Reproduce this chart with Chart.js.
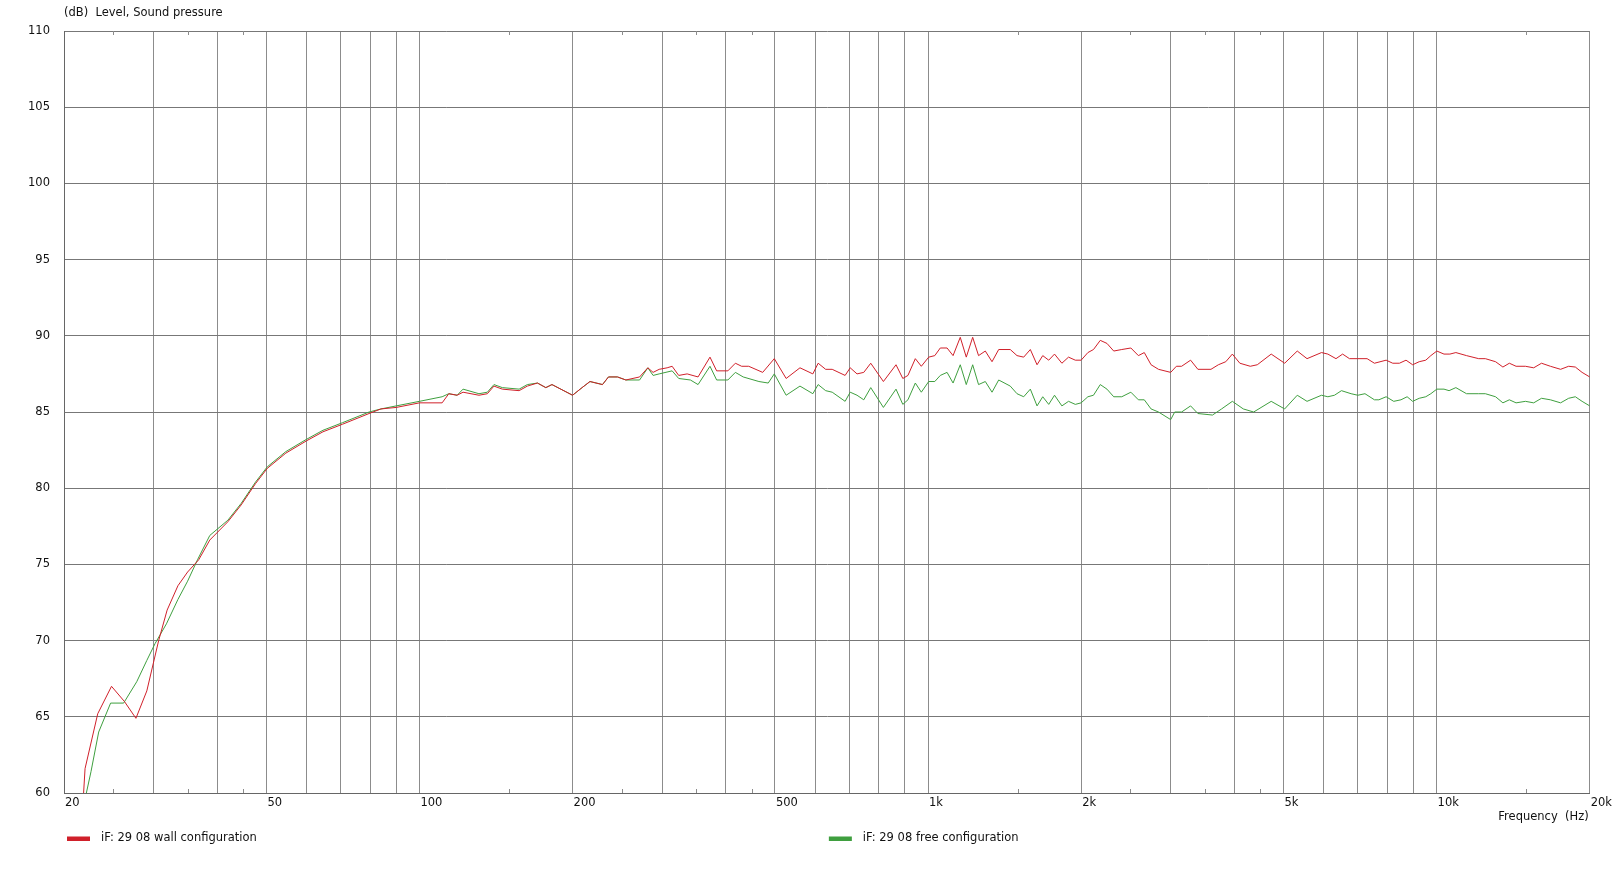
<!DOCTYPE html>
<html>
<head>
<meta charset="utf-8">
<script src="https://cdn.jsdelivr.net/npm/chart.js@4.4.1/dist/chart.umd.min.js"></script>
<style>
  html, body { margin: 0; padding: 0; background: #ffffff; }
  canvas { display: block; }
</style>
</head>
<body>
<canvas id="c" width="1614" height="869"></canvas>
<script>
// ---------- data ----------
const wallFreq = [21.5, 22.0, 23.3, 24.8, 26.3, 27.7, 29.1, 30.7, 31.9, 33.5,
  35.0, 36.8, 38.7, 42.0, 44.6, 47.6, 50.2, 54.6, 59.9, 64.6,
  70.6, 79.6, 84.0, 90.0, 100, 110.8, 114.2, 118.6, 121.8, 130.9,
  136, 140.1, 145.5, 157, 163, 170.6, 177.2, 182.2, 200, 208.8,
  216.4, 229, 235.3, 245.1, 254.6, 270.9, 281.2, 288, 296, 306.9,
  313.9, 323.4, 336, 353, 372.6, 384, 404, 418, 430, 444,
  473, 498.5, 526, 560, 593.6, 608, 629, 648, 687, 703,
  725, 747.5, 771.5, 817, 865, 892, 913, 944, 970, 1003,
  1031, 1057, 1090, 1120, 1157, 1189, 1224, 1257, 1296, 1336,
  1377, 1451, 1496, 1542, 1589, 1638, 1681, 1727, 1773, 1833,
  1889, 1948, 2000, 2062, 2115, 2181, 2248, 2318, 2404, 2505,
  2592, 2662, 2745, 2839, 3000, 3078, 3152, 3283, 3393, 3600,
  3723, 3850, 3966, 4103, 4301, 4440, 4729, 5026, 5321, 5562,
  5938, 6112, 6341, 6534, 6740, 7000, 7300, 7546, 7957, 8199,
  8450, 8707, 8971, 9242, 9521, 9742, 10010, 10340, 10620, 10910,
  11450, 12100, 12470, 13060, 13500, 13900, 14330, 14950, 15520, 16080,
  16740, 17530, 18180, 18740, 19320, 20000];
const wallLevel = [56.0, 61.6, 65.2, 67.0, 66.0, 64.9, 66.7, 70.0, 72.0, 73.6,
  74.5, 75.3, 76.6, 77.8, 78.9, 80.3, 81.3, 82.3, 83.1, 83.7,
  84.2, 84.9, 85.2, 85.3, 85.6, 85.6, 86.2, 86.1, 86.3, 86.1,
  86.2, 86.7, 86.5, 86.4, 86.7, 86.9, 86.6, 86.8, 86.1, 86.6,
  87.0, 86.8, 87.3, 87.3, 87.1, 87.3, 87.9, 87.6, 87.8, 87.9,
  88.0, 87.4, 87.5, 87.3, 88.6, 87.7, 87.7, 88.2, 88.0, 88.0,
  87.6, 88.5, 87.2, 87.9, 87.5, 88.2, 87.8, 87.8, 87.4, 87.9,
  87.5, 87.6, 88.2, 87.0, 88.1, 87.2, 87.4, 88.5, 88.0, 88.6,
  88.7, 89.2, 89.2, 88.7, 89.9, 88.6, 89.9, 88.7, 89.0, 88.3,
  89.1, 89.1, 88.7, 88.6, 89.1, 88.1, 88.7, 88.4, 88.8, 88.2,
  88.6, 88.4, 88.4, 88.9, 89.1, 89.7, 89.5, 89.0, 89.1, 89.2,
  88.7, 88.9, 88.1, 87.8, 87.6, 88.0, 88.0, 88.4, 87.8, 87.8,
  88.1, 88.3, 88.8, 88.2, 88.0, 88.1, 88.8, 88.2, 89.0, 88.5,
  88.9, 88.8, 88.5, 88.8, 88.5, 88.5, 88.5, 88.2, 88.4, 88.2,
  88.2, 88.4, 88.1, 88.3, 88.4, 88.7, 89.0, 88.8, 88.8, 88.9,
  88.7, 88.5, 88.5, 88.3, 87.95, 88.2, 88.0, 88.0, 87.9, 88.2,
  88.0, 87.8, 88.0, 87.95, 87.6, 87.3];

const freeFreq = [21.0, 22.6, 23.4, 24.7, 26.2, 27.8, 29.1, 30.2, 31.8, 33.5,
  35.0, 36.6, 38.7, 42.0, 44.6, 47.6, 50.2, 54.6, 59.9, 64.6,
  70.6, 79.6, 84.0, 90.0, 100, 110.8, 114.2, 118.6, 121.8, 130.9,
  136, 140.1, 145.5, 157, 163, 170.6, 177.2, 182.2, 200, 208.8,
  216.4, 229, 235.3, 245.1, 254.6, 270.9, 281.2, 288, 296, 313.9,
  323.4, 341, 353, 372.6, 384, 404, 418, 433, 465, 485,
  498.5, 526, 560, 593.6, 608, 629, 648, 687, 703, 725,
  747.5, 771.5, 817, 865, 892, 913, 944, 970, 1003, 1031,
  1057, 1090, 1120, 1157, 1189, 1224, 1257, 1296, 1336, 1377,
  1451, 1496, 1542, 1589, 1638, 1681, 1727, 1773, 1833, 1889,
  1948, 2000, 2062, 2115, 2181, 2248, 2318, 2404, 2505, 2592,
  2662, 2745, 2839, 3000, 3055, 3152, 3283, 3393, 3625, 3777,
  3966, 4168, 4368, 4729, 5026, 5321, 5562, 5938, 6112, 6297,
  6500, 6790, 7000, 7230, 7546, 7700, 7957, 8235, 8510, 8750,
  8971, 9242, 9521, 9742, 10010, 10340, 10580, 10910, 11450, 12100,
  12470, 13060, 13500, 13900, 14330, 14950, 15520, 16080, 16740, 17530,
  18180, 18740, 19320, 20000];
const freeLevel = [56.5, 61.4, 64.0, 65.9, 65.9, 67.3, 68.7, 69.8, 71.1, 72.7,
  73.9, 75.3, 76.9, 77.9, 79.0, 80.4, 81.4, 82.4, 83.2, 83.8,
  84.3, 85.0, 85.2, 85.4, 85.7, 86.0, 86.2, 86.1, 86.5, 86.2,
  86.3, 86.8, 86.6, 86.5, 86.8, 86.9, 86.6, 86.8, 86.1, 86.6,
  87.0, 86.8, 87.3, 87.3, 87.1, 87.1, 87.9, 87.4, 87.5, 87.7,
  87.2, 87.1, 86.8, 88.0, 87.1, 87.1, 87.6, 87.3, 87.0, 86.9,
  87.5, 86.1, 86.7, 86.2, 86.8, 86.4, 86.3, 85.7, 86.3, 86.1,
  85.8, 86.6, 85.3, 86.5, 85.5, 85.8, 86.9, 86.3, 87.0, 87.0,
  87.4, 87.6, 86.9, 88.1, 86.8, 88.1, 86.8, 87.0, 86.3, 87.1,
  86.7, 86.2, 86.0, 86.5, 85.4, 86.0, 85.5, 86.1, 85.4, 85.7,
  85.5, 85.6, 86.0, 86.1, 86.8, 86.5, 86.0, 86.0, 86.3, 85.8,
  85.8, 85.2, 85.0, 84.5, 85.0, 85.0, 85.4, 84.9, 84.8, 85.2,
  85.7, 85.2, 85.0, 85.7, 85.2, 86.1, 85.7, 86.1, 86.0, 86.1,
  86.4, 86.2, 86.1, 86.2, 85.8, 85.8, 86.0, 85.7, 85.8, 86.0,
  85.7, 85.9, 86.0, 86.2, 86.5, 86.5, 86.4, 86.6, 86.2, 86.2,
  86.2, 86.0, 85.6, 85.8, 85.6, 85.7, 85.6, 85.9, 85.8, 85.6,
  85.9, 86.0, 85.7, 85.4];

const seriesNames = ['iF: 29 08 wall configuration', 'iF: 29 08 free configuration'];

// axis ticks
const gridFreqs = [20, 30, 40, 50, 60, 70, 80, 90, 100, 200, 300, 400, 500, 600, 700, 800, 900,
  1000, 2000, 3000, 4000, 5000, 6000, 7000, 8000, 9000, 10000, 20000];
const labelFreqs = [20, 50, 100, 200, 500, 1000, 2000, 5000, 10000, 20000];
const labelTexts = ['20', '50', '100', '200', '500', '1k', '2k', '5k', '10k', '20k'];
const minorFreqs = [25, 35, 45, 150, 250, 350, 450, 1500, 2500, 3500, 4500, 15000];
const yMin = 60, yMax = 110, yStep = 5;

const yTitle = '(dB)  Level, Sound pressure';
const xTitle = 'Frequency  (Hz)';

// ---------- chart ----------
const FONT = '"DejaVu Sans", Verdana, sans-serif';
const FSIZE = 11.5;
Chart.defaults.font.family = FONT;
Chart.defaults.font.size = FSIZE;
Chart.defaults.color = '#111';

const toPts = (fx, ly) => fx.map((f, i) => ({ x: f, y: ly[i] }));

const decor = {
  id: 'decor',
  beforeDatasetsDraw(chart) {
    const { ctx, chartArea: a, scales: { x } } = chart;
    ctx.save();
    ctx.strokeStyle = '#8c8c8c';
    ctx.lineWidth = 1;
    minorFreqs.forEach(f => {
      const px = Math.round(x.getPixelForValue(f)) + 0.5;
      ctx.beginPath();
      ctx.moveTo(px, a.bottom); ctx.lineTo(px, a.bottom - 4);
      ctx.moveTo(px, a.top); ctx.lineTo(px, a.top + 4);
      ctx.stroke();
    });
    ctx.restore();
  },
  afterDraw(chart) {
    const { ctx, chartArea: a } = chart;
    ctx.save();
    ctx.fillStyle = '#111';
    ctx.font = FSIZE + 'px ' + FONT;
    ctx.textBaseline = 'middle';
    ctx.textAlign = 'left';
    ctx.fillText(yTitle, a.left, 13);
    ctx.textAlign = 'right';
    ctx.fillText(xTitle, a.right - 1, 817);
    // legend
    ctx.textAlign = 'left';
    const starts = [a.left + 3, a.left + (a.right - a.left) / 2 + 2];
    chart.data.datasets.forEach((ds, i) => {
      const lx = starts[i];
      ctx.fillStyle = ds.borderColor;
      ctx.fillRect(lx, 836.5, 23, 4.5);
      ctx.fillStyle = '#111';
      ctx.fillText(ds.label, lx + 34, 838.5);
    });
    ctx.restore();
  }
};

new Chart(document.getElementById('c'), {
  type: 'line',
  data: {
    datasets: [
      { label: seriesNames[0], data: toPts(wallFreq, wallLevel), borderColor: '#d0202a',
        backgroundColor: '#d0202a', borderWidth: 1, pointRadius: 0, tension: 0, fill: false },
      { label: seriesNames[1], data: toPts(freeFreq, freeLevel), borderColor: '#3f9f3f',
        backgroundColor: '#3f9f3f', borderWidth: 1, pointRadius: 0, tension: 0, fill: false }
    ]
  },
  options: {
    responsive: false,
    devicePixelRatio: 1,
    animation: false,
    events: [],
    layout: { padding: { top: 31, right: 23, left: 0, bottom: 0 } },
    plugins: { legend: { display: false }, tooltip: { enabled: false }, title: { display: false } },
    scales: {
      x: {
        type: 'logarithmic',
        min: 20, max: 20000,
        afterBuildTicks(scale) { scale.ticks = gridFreqs.map(v => ({ value: v })); },
        afterFit(scale) { scale.height = 76; },
        ticks: {
          autoSkip: false, maxRotation: 0, minRotation: 0,
          align: 'start', labelOffset: 1, padding: 3, color: '#111',
          callback(v) { const k = labelFreqs.indexOf(v); return k >= 0 ? labelTexts[k] : ''; }
        },
        grid: { color: '#8c8c8c', lineWidth: 1, drawTicks: false },
        border: { display: true, color: '#666666', width: 1 }
      },
      y: {
        type: 'linear',
        min: yMin, max: yMax,
        afterFit(scale) { scale.width = 64; },
        ticks: { stepSize: yStep, padding: 14, color: '#111' },
        grid: { color: '#777777', lineWidth: 1, drawTicks: false },
        border: { display: true, color: '#666666', width: 1 }
      }
    }
  },
  plugins: [decor]
});
</script>
</body>
</html>
